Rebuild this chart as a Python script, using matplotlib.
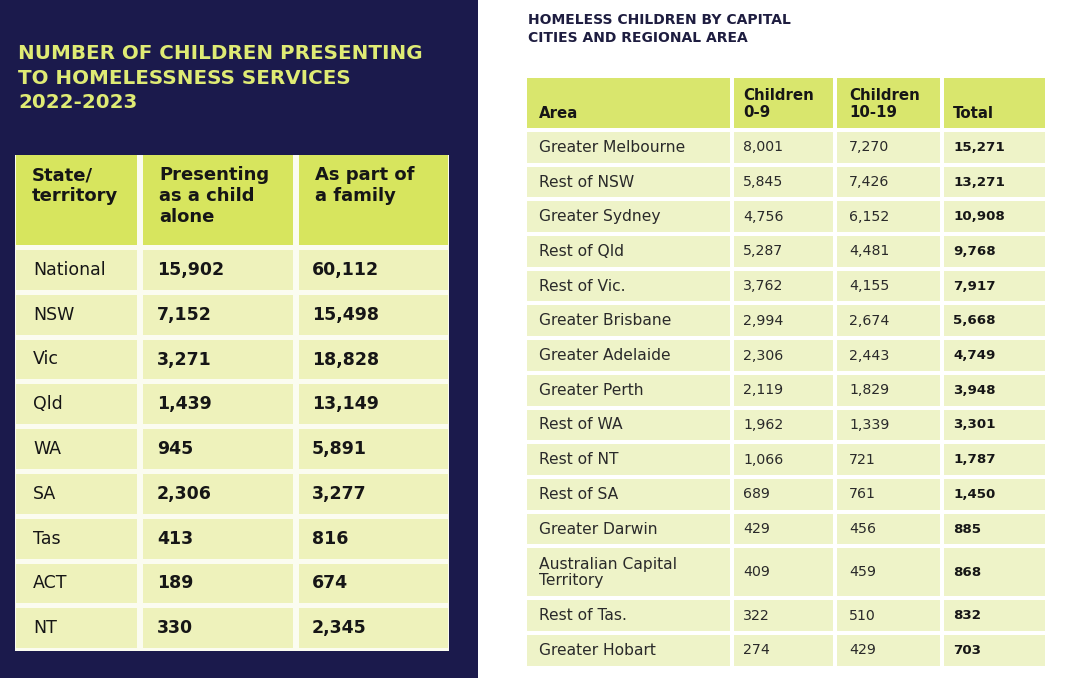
import matplotlib
matplotlib.use("Agg")
import matplotlib.pyplot as plt
from matplotlib.patches import Rectangle

# left table: children presenting to homelessness services
states = ['National', 'NSW', 'Vic', 'Qld', 'WA', 'SA', 'Tas', 'ACT', 'NT']
alone = [15902, 7152, 3271, 1439, 945, 2306, 413, 189, 330]
family = [60112, 15498, 18828, 13149, 5891, 3277, 816, 674, 2345]
left_heads = ['State/\nterritory', 'Presenting\nas a child\nalone', 'As part of\na family']
left_title = 'NUMBER OF CHILDREN PRESENTING\nTO HOMELESSNESS SERVICES\n2022-2023'

# right table: capital cities and regional areas
areas = ['Greater Melbourne', 'Rest of NSW', 'Greater Sydney', 'Rest of Qld',
         'Rest of Vic.', 'Greater Brisbane', 'Greater Adelaide', 'Greater Perth',
         'Rest of WA', 'Rest of NT', 'Rest of SA', 'Greater Darwin',
         'Australian Capital\nTerritory', 'Rest of Tas.', 'Greater Hobart']
kids_0_9 = [8001, 5845, 4756, 5287, 3762, 2994, 2306, 2119, 1962, 1066, 689, 429, 409, 322, 274]
kids_10_19 = [7270, 7426, 6152, 4481, 4155, 2674, 2443, 1829, 1339, 721, 761, 456, 459, 510, 429]
totals = [15271, 13271, 10908, 9768, 7917, 5668, 4749, 3948, 3301, 1787, 1450, 885, 868, 832, 703]
right_heads = ['Area', 'Children\n0-9', 'Children\n10-19', 'Total']
right_title = 'HOMELESS CHILDREN BY CAPITAL\nCITIES AND REGIONAL AREA'

NAVY = '#1b1a4c'
LIME = '#d7e55e'
PALE = '#eef2bb'
LIME2 = '#d9e66d'
PALE2 = '#eef3c8'
INK = '#161616'

fig = plt.figure(figsize=(10.8, 6.78), dpi=100)
ax = fig.add_axes([0, 0, 1, 1])
ax.set_xlim(0, 1080)
ax.set_ylim(678, 0)
ax.axis('off')

ax.add_patch(Rectangle((0, 0), 478, 678, color=NAVY, lw=0))
ax.text(18, 78, left_title, color='#dfeb74', fontsize=14.3, fontweight='bold',
        va='center', ha='left', linespacing=1.38, family='DejaVu Sans')

# left table
lcols = [(16, 137), (143, 293), (299, 448)]
hdr_top, hdr_bot = 155, 245
body_top, pitch, gap = 250, 44.8, 5
ax.add_patch(Rectangle((lcols[0][0] - 1, hdr_top),
                       lcols[-1][1] - lcols[0][0] + 2,
                       body_top + len(states) * pitch - hdr_top - 2,
                       color='#fbfcf0', lw=0))
for (x0, x1), head in zip(lcols, left_heads):
    ax.add_patch(Rectangle((x0, hdr_top), x1 - x0, hdr_bot - hdr_top, color=LIME, lw=0))
    ax.text(x0 + 16, 166, head, fontsize=13, fontweight='bold', color=INK,
            va='top', ha='left', linespacing=1.2)
for i, (st, a, f) in enumerate(zip(states, alone, family)):
    y0 = body_top + i * pitch
    yc = y0 + (pitch - gap) / 2
    for x0, x1 in lcols:
        ax.add_patch(Rectangle((x0, y0), x1 - x0, pitch - gap, color=PALE, lw=0))
    ax.text(lcols[0][0] + 17, yc, st, fontsize=12.5, color=INK, va='center')
    ax.text(lcols[1][0] + 14, yc, f'{a:,}', fontsize=12.5, fontweight='bold', color=INK, va='center')
    ax.text(lcols[2][0] + 13, yc, f'{f:,}', fontsize=12.5, fontweight='bold', color=INK, va='center')

# right table
ax.text(528, 29, right_title, color='#1e1d40', fontsize=10, fontweight='bold',
        va='center', ha='left', linespacing=1.42)
rcols = [(527, 730), (734, 833), (837, 940), (944, 1045)]
rpad = [12, 9, 12, 9]
for (x0, x1), head, p in zip(rcols, right_heads, rpad):
    ax.add_patch(Rectangle((x0, 78), x1 - x0, 50, color=LIME2, lw=0))
    yc = 104 if '\n' in head else 113
    ax.text(x0 + p, yc, head, fontsize=10.8, fontweight='bold', color=INK,
            va='center', ha='left', linespacing=1.15)
rpitch, rgap = 34.7, 4
y0 = 132
for ar, c1, c2, t in zip(areas, kids_0_9, kids_10_19, totals):
    h = rpitch * (1.5 if '\n' in ar else 1)
    yc = y0 + (h - rgap) / 2
    for x0, x1 in rcols:
        ax.add_patch(Rectangle((x0, y0), x1 - x0, h - rgap, color=PALE2, lw=0))
    ax.text(rcols[0][0] + rpad[0], yc, ar, fontsize=11.2, color='#2a2a2a', va='center', linespacing=1.05)
    ax.text(rcols[1][0] + rpad[1], yc, f'{c1:,}', fontsize=10.2, color='#2a2a2a', va='center')
    ax.text(rcols[2][0] + rpad[2], yc, f'{c2:,}', fontsize=10.2, color='#2a2a2a', va='center')
    ax.text(rcols[3][0] + rpad[3], yc, f'{t:,}', fontsize=9.6, fontweight='bold', color=INK, va='center')
    y0 += h

fig.savefig('out.png', dpi=100)
